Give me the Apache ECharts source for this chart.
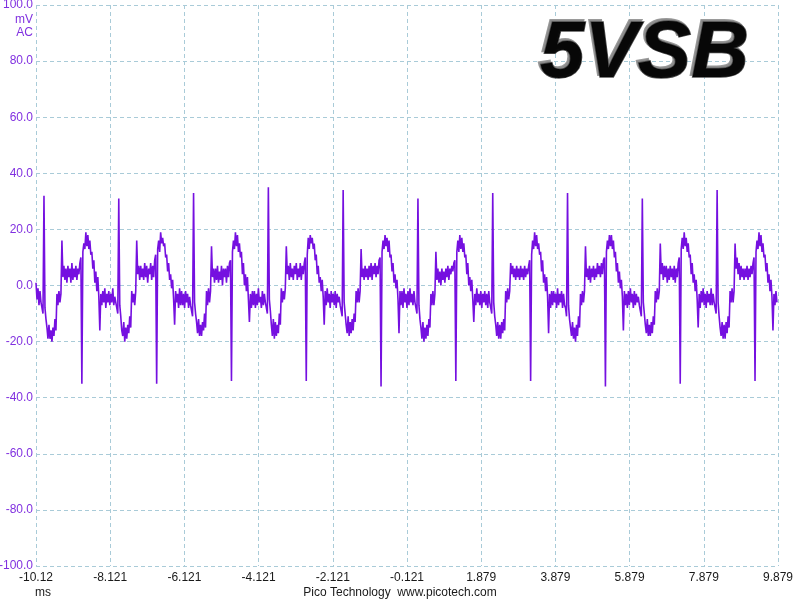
<!DOCTYPE html>
<html><head><meta charset="utf-8">
<script src="https://cdn.jsdelivr.net/npm/echarts@6/dist/echarts.min.js"></script>
<style>html,body{margin:0;padding:0;background:#fff}#c{width:800px;height:600px}</style>
</head><body><div id="c"></div>
<script>
// Tick labels of the time axis (ms), one every 2 ms from -10.121 ms
const xTickLabels = ['-10.12','-8.121','-6.121','-4.121','-2.121','-0.121','1.879','3.879','5.879','7.879','9.879'];
const yTicks = [-100,-80,-60,-40,-20,0,20,40,60,80,100];
// sample interval of the trace (ms)
const sampleStepMs = 0.02688;
// trace samples (mV), cycle by cycle
const headMv   = [1,-5,-1,-7,-2,-6,-8,-10];
const cycle1Mv = [32,-8,-12,-15,-19,-14,-19,-16,-20,-15,-18,-12,-16,-3,-7,-2,-6,-3,16,3,7,2,6,1,7,3,6,1,8,2,6,3,7,2,6,4,8,10,-35,12,15,13,19,14,18,13,16,11,12,6,9,1,5,-2,3,-4,-16,-3,-7,-2,-6,-1,-8,-3,-6,-2,-7,-3,-6,-1,-7,-4,-6,-8,-10];
const cycle2Mv = [31,-7,-11,-16,-18,-13,-20,-15,-19,-14,-17,-11,-15,-2,-6,-3,-7,-2,16,4,7,2,7,3,6,2,8,3,7,1,6,4,8,2,7,3,9,11,-35,13,16,12,19,15,17,14,15,10,11,5,8,2,4,-1,2,-5,-14,-2,-6,-3,-8,-1,-7,-2,-7,-3,-8,-2,-6,-3,-8,-4,-7,-9,-11];
const cycle3Mv = [33,-6,-10,-13,-17,-12,-18,-14,-18,-13,-16,-10,-15,-2,-7,-1,-6,-2,14,3,6,1,6,2,7,1,5,2,7,0,6,3,6,1,7,3,8,9,-34,12,16,13,19,14,18,12,15,10,12,4,8,0,4,-2,3,-5,-13,-3,-8,-2,-7,-2,-8,-3,-7,-1,-6,-4,-8,-2,-7,-3,-6,-8,-10];
const cycle4Mv = [35,-5,-9,-14,-18,-12,-19,-13,-18,-14,-17,-10,-14,-1,-6,-2,-5,-1,14,4,7,2,8,3,6,2,7,4,8,2,6,3,8,2,7,4,8,10,-34,11,17,13,18,15,17,13,15,9,11,4,7,1,3,-2,2,-4,-14,-2,-7,-1,-6,-3,-8,-2,-6,-3,-7,-2,-8,-3,-6,-4,-7,-9,-11];
const cycle5Mv = [34,-6,-10,-14,-17,-11,-18,-13,-17,-12,-16,-10,-13,-2,-6,-1,-6,-2,13,3,6,2,7,3,6,2,7,3,8,2,7,4,8,3,7,4,9,10,-36,12,16,13,18,14,17,12,16,10,11,5,8,1,4,-1,2,-5,-17,-2,-7,-2,-8,-1,-6,-3,-8,-2,-7,-1,-6,-3,-7,-2,-6,-8,-10];
const cycle6Mv = [31,-7,-12,-15,-19,-13,-20,-15,-19,-14,-18,-12,-15,-3,-7,-2,-7,-3,12,2,6,1,5,0,6,2,5,1,6,3,7,2,6,4,7,5,8,9,-34,12,16,12,18,13,17,12,15,10,11,4,8,0,3,-2,2,-5,-13,-3,-7,-1,-6,-3,-7,-2,-8,-3,-6,-2,-7,-3,-8,-2,-6,-8,-10];
const cycle7Mv = [33,-6,-11,-14,-18,-13,-19,-14,-19,-13,-17,-12,-16,-2,-6,-1,-5,-2,8,4,7,3,6,2,7,3,6,2,7,3,6,2,7,3,6,4,7,9,-34,11,16,13,19,14,18,13,15,11,12,5,9,1,4,-2,3,-4,-17,-3,-8,-2,-7,-2,-6,-3,-8,-1,-7,-3,-6,-2,-8,-3,-7,-8,-11];
const cycle8Mv = [33,-7,-12,-15,-18,-13,-19,-15,-20,-14,-18,-11,-15,-3,-7,-2,-6,-2,14,3,6,2,7,1,6,3,7,2,6,3,8,4,7,3,8,4,9,10,-36,12,16,13,18,14,18,13,16,10,12,5,8,1,5,-1,2,-4,-16,-2,-7,-3,-8,-2,-7,-1,-6,-3,-8,-2,-7,-3,-6,-4,-7,-9,-11];
const cycle9Mv = [31,-6,-10,-14,-17,-12,-18,-14,-18,-13,-17,-11,-14,-2,-6,-1,-5,-2,15,4,8,2,7,3,7,1,6,2,7,3,6,2,7,1,6,3,8,10,-35,13,17,13,19,14,17,12,15,10,11,4,8,1,4,-2,2,-5,-15,-3,-8,-2,-6,-1,-7,-3,-8,-2,-6,-3,-7,-1,-7,-3,-6,-8,-10];
const cycle10Mv = [34,-6,-11,-15,-18,-13,-19,-14,-19,-13,-17,-11,-15,-2,-6,-1,-6,-2,15,6,10,4,8,2,7,3,6,2,6,3,7,2,6,3,7,4,8,10,-34,12,16,13,19,14,18,12,15,10,11,5,8,1,4,-2,2,-4,-16,-3,-7,-2,-6];

const traceMv = headMv.concat(cycle1Mv, cycle2Mv, cycle3Mv, cycle4Mv, cycle5Mv,
  cycle6Mv, cycle7Mv, cycle8Mv, cycle9Mv, cycle10Mv);
const seriesData = traceMv.map((v, i) => [i * sampleStepMs, v]);

const purple = '#8030e0';
const gridColor = '#a9cbd8';
const titleFont = 'italic bold 80px "Liberation Sans", Arial, sans-serif';
const chart = echarts.init(document.getElementById('c'), null, {renderer: 'canvas'});
chart.setOption({
  animation: false,
  backgroundColor: '#ffffff',
  grid: {left: 36, right: 22, top: 5, bottom: 34, containLabel: false, outerBoundsMode: 'none'},
  xAxis: {
    type: 'value', min: 0, max: 20, interval: 2,
    axisLine: {show: false}, axisTick: {show: false},
    axisLabel: {
      color: '#1a1a1a', fontSize: 12, fontFamily: '"Liberation Sans", Arial, sans-serif', margin: 6,
      showMinLabel: true, showMaxLabel: true,
      formatter: v => xTickLabels[Math.round(v / 2)]
    },
    splitLine: {show: true, lineStyle: {color: gridColor, type: [4, 3], width: 1}}
  },
  yAxis: {
    type: 'value', min: yTicks[0], max: yTicks[yTicks.length - 1], interval: 20,
    axisLine: {show: false}, axisTick: {show: false},
    axisLabel: {
      color: purple, fontSize: 12, fontFamily: '"Liberation Sans", Arial, sans-serif', margin: 3,
      showMinLabel: true, showMaxLabel: true,
      formatter: v => v.toFixed(1)
    },
    splitLine: {show: true, lineStyle: {color: gridColor, type: [4, 3], width: 1}}
  },
  series: [{
    type: 'line', data: seriesData, showSymbol: false, symbol: 'none',
    sampling: null, smooth: false,
    lineStyle: {color: '#7510e0', width: 1.6}
  }],
  graphic: [
    {type: 'text', x: 33, y: 20, style: {text: 'mV', align: 'right', verticalAlign: 'middle', fill: purple, font: '12px "Liberation Sans", Arial, sans-serif'}},
    {type: 'text', x: 33, y: 33, style: {text: 'AC', align: 'right', verticalAlign: 'middle', fill: purple, font: '12px "Liberation Sans", Arial, sans-serif'}},
    {type: 'text', x: 43, y: 593, style: {text: 'ms', align: 'center', verticalAlign: 'middle', fill: '#1a1a1a', font: '12px "Liberation Sans", Arial, sans-serif'}},
    {type: 'text', x: 400, y: 593, style: {text: 'Pico Technology  www.picotech.com', align: 'center', verticalAlign: 'middle', fill: '#1a1a1a', font: '12px "Liberation Sans", Arial, sans-serif'}},
    {type: 'text', x: 538, y: 53, z: 10, style: {text: '5VSB', align: 'left', verticalAlign: 'middle',
      font: titleFont, fill: '#8c8c8c', stroke: '#9a9a9a', lineWidth: 2}},
    {type: 'text', x: 540, y: 55, z: 11, style: {text: '5VSB', align: 'left', verticalAlign: 'middle',
      font: titleFont, fill: '#000000', stroke: '#4a4a4a', lineWidth: 1.5, opacity: 0.95}}
  ]
});
</script>
</body></html>
